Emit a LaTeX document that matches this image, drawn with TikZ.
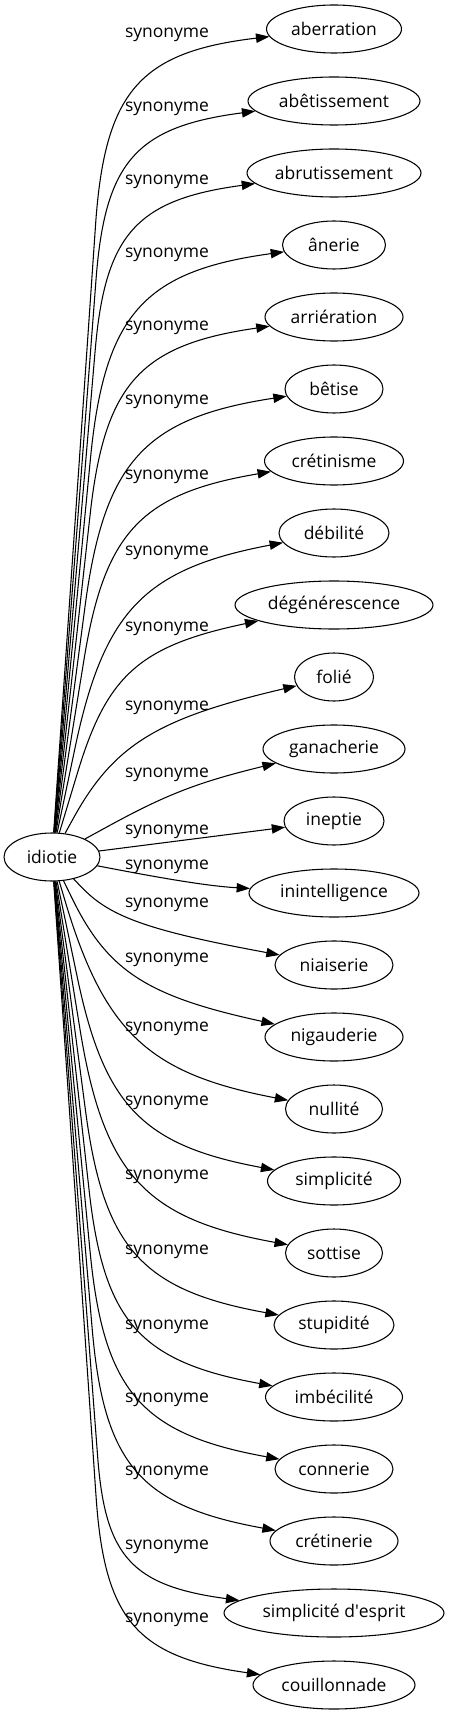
\documentclass[tikz,border=0pt]{standalone}
\usepackage{fontspec}
\setmainfont{Open Sans}
\usetikzlibrary{arrows.meta,shapes.geometric}
\begin{document}
\begin{tikzpicture}[x=0.75pt,y=0.75pt,
  every node/.style={font=\fontsize{13.1pt}{15.7pt}\selectfont},
  word/.style={draw, ellipse, line width=0.8pt, minimum height=36pt, inner sep=0pt},
  rel/.style={inner sep=0pt, anchor=base},
  link/.style={line width=0.8pt, -{Triangle[length=10pt,width=7pt]}}]
\useasboundingbox (0,0) rectangle (449,-1715);
\node[word, minimum width=72pt] (idiotie) at (52,-857) {idiotie};

% edges towards targets above idiotie
\foreach \nm/\tx/\w/\T/\L/\yK in {
  aberration/aberration/135/29/33/38,
  abetissement/abêtissement/172/101/107/112,
  abrutissement/abrutissement/174/173/180/185,
  anerie/ânerie/103/245/253/258,
  arrieration/arriération/138/317/326/331,
  betise/bêtise/98/389/400/405,
  cretinisme/crétinisme/139/461/475/480,
  debilite/débilité/110/533/551/556,
  degenerescence/dégénérescence/198/605/627/632,
  folie/folié/79/677/706/708,
  ganacherie/ganacherie/142/749/773/780}{
  \node[word, minimum width=\w*0.75pt] (\nm) at (334,-\T) {\tx};
  \node[rel] (l\nm) at (167,{-(\L+4.7)}) {synonyme};
  \pgfmathsetmacro\mA{53/(802-\L)}
  \pgfmathsetmacro\xC{(52+\mA*(815.2-\yK))/(1-0.2*\mA)}
  \pgfmathsetmacro\yC{\yK-0.2*(\xC-209)}
  \pgfmathsetmacro\xE{334-\w/2+4}
  \pgfmathsetmacro\yE{\yK-0.2*(\xE-209)}
  \pgfmathsetmacro\ax{(\xE-\xC)/100}
  \pgfmathsetmacro\ay{(\yE-\yC)/100}
  \pgfmathsetmacro\dE{100*sqrt(\ax*\ax+\ay*\ay)}
  \pgfmathsetmacro\bx{(52-\xC)/100}
  \pgfmathsetmacro\by{(857-\yC)/100}
  \pgfmathsetmacro\dO{100*sqrt(\bx*\bx+\by*\by)}
  \pgfmathsetmacro\lg{min(\dE,\dO-45)}
  \pgfmathsetmacro\rr{\lg/\dO}
  \pgfmathsetmacro\xB{\xC+(52-\xC)*\rr}
  \pgfmathsetmacro\yB{\yC+(857-\yC)*\rr}
  \pgfmathsetmacro\xP{\xB+0.8*(\xC-\xB)}
  \pgfmathsetmacro\yP{\yB+0.8*(\yC-\yB)}
  \pgfmathsetmacro\xR{\xE+0.8*(\xC-\xE)}
  \pgfmathsetmacro\yR{\yE+0.8*(\yC-\yE)}
  \coordinate (b\nm) at (\xB,-\yB);
  \draw[link] (idiotie) -- (b\nm) .. controls (\xP,-\yP) and (\xR,-\yR) .. (\nm);
}

% the two nearly straight edges
\node[word, minimum width=75pt] (ineptie) at (334,-821) {ineptie};
\node[rel] (lineptie) at (167,-834.7) {synonyme};
\draw[link] (idiotie) -- (ineptie);
\node[word, minimum width=127.5pt] (inintelligence) at (334,-893) {inintelligence};
\node[rel] (lininte) at (167,-869.7) {synonyme};
\draw[link] (idiotie) .. controls (150,-876) and (205,-886) .. (inintelligence);

% edges towards targets below idiotie
\foreach \nm/\tx/\w/\T/\L/\yK in {
  niaiserie/niaiserie/118/965/903/944,
  nigauderie/nigauderie/138/1037/958/1010,
  nullite/nullité/97/1109/1027/1087,
  simplicite/simplicité/133/1181/1101/1160,
  sottise/sottise/97/1253/1175/1233,
  stupidite/stupidité/120/1325/1250/1305,
  imbecilite/imbécilité/137/1397/1325/1377,
  connerie/connerie/118/1469/1398/1449,
  cretinerie/crétinerie/128/1541/1471/1521,
  simpliciteesprit/simplicité d\textquotesingle{}esprit/220/1613/1545/1603,
  couillonnade/couillonnade/162/1685/1618/1673}{
  \node[word, minimum width=\w*0.75pt] (\nm) at (334,-\T) {\tx};
  \node[rel] (l\nm) at (167,{-(\L+4.7)}) {synonyme};
  \pgfmathsetmacro\mA{53/(\L-849)}
  \pgfmathsetmacro\xC{(52+\mA*(\yK-902.98))/(1-0.22*\mA)}
  \pgfmathsetmacro\yC{\yK+0.22*(\xC-209)}
  \pgfmathsetmacro\xE{334-\w/2+4}
  \pgfmathsetmacro\yE{\yK+0.22*(\xE-209)}
  \pgfmathsetmacro\ax{(\xE-\xC)/100}
  \pgfmathsetmacro\ay{(\yE-\yC)/100}
  \pgfmathsetmacro\dE{100*sqrt(\ax*\ax+\ay*\ay)}
  \pgfmathsetmacro\bx{(52-\xC)/100}
  \pgfmathsetmacro\by{(857-\yC)/100}
  \pgfmathsetmacro\dO{100*sqrt(\bx*\bx+\by*\by)}
  \pgfmathsetmacro\lg{min(\dE,\dO-45)}
  \pgfmathsetmacro\rr{\lg/\dO}
  \pgfmathsetmacro\xB{\xC+(52-\xC)*\rr}
  \pgfmathsetmacro\yB{\yC+(857-\yC)*\rr}
  \pgfmathsetmacro\xP{\xB+0.8*(\xC-\xB)}
  \pgfmathsetmacro\yP{\yB+0.8*(\yC-\yB)}
  \pgfmathsetmacro\xR{\xE+0.8*(\xC-\xE)}
  \pgfmathsetmacro\yR{\yE+0.8*(\yC-\yE)}
  \coordinate (b\nm) at (\xB,-\yB);
  \draw[link] (idiotie) -- (b\nm) .. controls (\xP,-\yP) and (\xR,-\yR) .. (\nm);
}
\end{tikzpicture}
\end{document}
